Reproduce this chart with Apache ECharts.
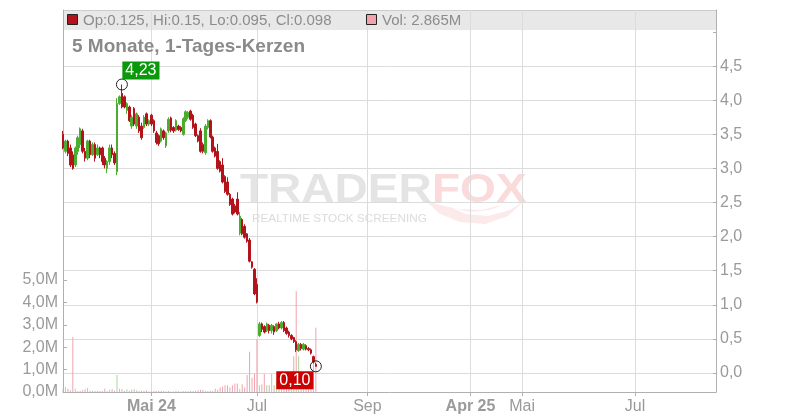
<!DOCTYPE html>
<html><head><meta charset="utf-8">
<script src="https://cdn.jsdelivr.net/npm/echarts@6/dist/echarts.min.js"></script>
<style>html,body{margin:0;padding:0;background:#fff}#c{width:800px;height:420px}</style>
</head><body><div id="c"></div>
<script>
// ---- data ----
const slotCount = 267; // trading-day slots on the x axis (data + empty future)
const tickIndex = [36, 79, 124, 166, 187, 233];
const tickLabels = ['Mai 24', 'Jul', 'Sep', 'Apr 25', 'Mai', 'Jul'];
const tickBold = [true, false, false, true, false, false];
const chartTitle = '5 Monate, 1-Tages-Kerzen';
// [open, close, low, high]
const candles = [
[3.50,3.30,3.28,3.55],[3.25,3.40,3.22,3.42],[3.40,3.22,3.18,3.42],[3.30,3.05,3.02,3.35],[3.20,3.00,2.98,3.25],
[3.05,3.30,3.02,3.32],[3.25,3.45,3.20,3.48],[3.35,3.58,3.30,3.60],[3.55,3.25,3.22,3.58],[3.25,3.15,3.10,3.30],
[3.15,3.40,3.12,3.42],[3.40,3.20,3.15,3.42],[3.20,3.35,3.18,3.38],[3.35,3.15,3.10,3.38],[3.20,3.30,3.18,3.35],
[3.30,3.20,3.15,3.32],[3.30,3.10,3.05,3.32],[3.15,3.05,3.00,3.18],[3.00,3.10,2.93,3.12],[3.10,3.30,3.05,3.35],
[3.30,3.20,3.15,3.35],[3.22,3.08,3.05,3.25],[2.95,3.95,2.90,4.03],[3.95,4.05,3.93,4.07],[4.10,3.90,3.88,4.23],
[4.05,3.90,3.88,4.07],[3.85,3.95,3.80,3.97],[3.90,3.70,3.68,3.92],[3.62,3.75,3.58,3.78],[3.88,3.65,3.62,3.90],
[3.62,3.80,3.58,3.82],[3.75,3.55,3.52,3.78],[3.62,3.45,3.42,3.67],[3.60,3.75,3.58,3.78],[3.80,3.65,3.62,3.82],
[3.65,3.70,3.62,3.72],[3.78,3.65,3.62,3.80],[3.70,3.55,3.52,3.72],[3.52,3.38,3.35,3.55],[3.48,3.36,3.33,3.50],
[3.40,3.58,3.38,3.60],[3.55,3.45,3.42,3.57],[3.33,3.52,3.30,3.54],[3.55,3.72,3.52,3.75],[3.74,3.56,3.53,3.76],
[3.60,3.55,3.52,3.62],[3.56,3.70,3.54,3.72],[3.62,3.57,3.55,3.64],[3.60,3.55,3.53,3.62],[3.50,3.73,3.48,3.75],
[3.70,3.83,3.68,3.85],[3.75,3.82,3.72,3.84],[3.84,3.72,3.70,3.86],[3.78,3.60,3.58,3.80],[3.65,3.48,3.46,3.67],
[3.48,3.40,3.38,3.50],[3.55,3.25,3.23,3.59],[3.35,3.25,3.22,3.38],[3.23,3.62,3.20,3.65],[3.60,3.70,3.57,3.72],
[3.70,3.46,3.44,3.72],[3.46,3.25,3.23,3.48],[3.30,3.18,3.16,3.32],[3.25,3.00,2.98,3.36],[3.10,2.96,2.94,3.12],
[3.05,2.80,2.78,3.15],[2.88,2.66,2.64,2.90],[2.80,2.62,2.60,2.87],[2.62,2.47,2.45,2.64],[2.55,2.33,2.31,2.57],
[2.45,2.36,2.34,2.48],[2.55,2.33,2.31,2.65],[2.05,2.30,2.02,2.36],[2.25,2.04,2.02,2.27],[2.15,1.99,1.97,2.18],
[2.04,1.93,1.91,2.05],[1.95,1.64,1.62,1.98],[1.63,1.55,1.53,1.64],[1.52,1.16,1.14,1.54],[1.30,1.04,1.02,1.39],
[0.55,0.72,0.53,0.75],[0.72,0.64,0.60,0.74],[0.68,0.60,0.58,0.70],[0.62,0.72,0.60,0.74],[0.70,0.62,0.58,0.72],
[0.62,0.70,0.58,0.72],[0.68,0.60,0.56,0.70],[0.62,0.72,0.60,0.73],[0.72,0.66,0.64,0.75],[0.66,0.74,0.64,0.76],
[0.74,0.62,0.60,0.76],[0.66,0.58,0.56,0.68],[0.60,0.55,0.52,0.62],[0.55,0.50,0.48,0.57],[0.52,0.46,0.44,0.53],
[0.46,0.34,0.31,0.48],[0.33,0.42,0.31,0.44],[0.42,0.36,0.33,0.44],[0.35,0.42,0.33,0.44],[0.40,0.35,0.33,0.42],
[0.36,0.34,0.32,0.38],[0.34,0.29,0.27,0.36],[0.24,0.16,0.14,0.25],[0.125,0.098,0.095,0.15]
];
// volume in millions
const volumeM = [
0.12,0.22,0.15,0.08,2.45,0.15,0.05,0.06,0.08,0.12,
0.18,0.06,0.06,0.05,0.06,0.05,0.05,0.15,0.05,0.10,
0.12,0.06,0.76,0.15,0.12,0.05,0.12,0.05,0.10,0.12,
0.08,0.05,0.06,0.06,0.08,0.03,0.03,0.06,0.05,0.06,
0.05,0.05,0.03,0.04,0.02,0.02,0.06,0.03,0.02,0.04,
0.05,0.05,0.06,0.05,0.06,0.08,0.10,0.10,0.06,0.05,
0.06,0.05,0.15,0.10,0.20,0.25,0.30,0.30,0.20,0.30,
0.38,0.38,0.15,0.35,0.20,0.76,1.80,0.64,0.83,2.35,
0.30,0.35,0.80,0.30,0.30,0.80,0.30,0.50,0.40,0.30,
0.50,0.40,0.60,0.60,1.60,4.50,1.60,0.60,0.80,0.50,
0.70,0.50,1.65,2.865
];
const priceMax = 5, priceInterval = 0.5;
const volMaxM = 5, volIntervalM = 1;
const highIdx = 24, lastIdx = candles.length - 1;

// ---- styles ----
const RED = '#b3141c', GREEN = '#4aad2f', VOL_RED = '#f0a3ad', VOL_GREEN = '#a5d99a';
const AXIS = '#b0b0b0', GRID = '#dcdcdc', LABEL = '#9a9a9a';
const FONT = '"Liberation Sans", Arial, sans-serif';
const L = 63, R = 84;

const slots = Array.from({length: slotCount}, (_, i) => String(i));
const comma = (v, d) => v.toFixed(d).replace('.', ',');
const isTick = (i) => tickIndex.indexOf(i) >= 0;

const volData = volumeM.map((v, i) => ({
  value: v * 1e6,
  itemStyle: {color: candles[i][1] >= candles[i][0] ? VOL_GREEN : VOL_RED}
}));

const last = candles[lastIdx];
const headerText = 'Op:' + last[0] + ', Hi:' + last[3] + ', Lo:' + last[2] + ', Cl:' + last[1];
const volText = 'Vol: ' + volumeM[lastIdx] + 'M';

const chart = echarts.init(document.getElementById('c'), null, {renderer: 'canvas'});
chart.setOption({
  animation: false,
  backgroundColor: '#fff',
  grid: [
    {left: L, right: R, top: 10, bottom: 28},
    {left: L, right: R, top: 32, bottom: 47},
    {left: L, right: R, top: 280, bottom: 28}
  ],
  xAxis: [
    {type: 'category', gridIndex: 0, data: slots, boundaryGap: false,
      axisLine: {lineStyle: {color: AXIS}},
      axisTick: {show: true, length: 4, interval: (i) => isTick(i), lineStyle: {color: AXIS}},
      splitLine: {show: true, interval: (i) => isTick(i), lineStyle: {color: GRID}},
      axisLabel: {interval: (i) => isTick(i), margin: 7, color: LABEL, fontSize: 16, fontFamily: FONT,
        formatter: (v) => { const k = tickIndex.indexOf(Number(v)); if (k < 0) return ''; return tickBold[k] ? '{b|' + tickLabels[k] + '}' : tickLabels[k]; },
        rich: {b: {fontWeight: 'bold', color: LABEL, fontSize: 16, fontFamily: FONT}}}},
    {type: 'category', gridIndex: 1, data: slots, boundaryGap: false, show: false},
    {type: 'category', gridIndex: 2, data: slots, boundaryGap: false, show: false}
  ],
  yAxis: [
    {type: 'value', gridIndex: 0, position: 'left', min: 0, max: 1,
      axisLine: {show: true, lineStyle: {color: AXIS}}, axisTick: {show: false}, axisLabel: {show: false}, splitLine: {show: false}},
    {type: 'value', gridIndex: 0, position: 'right', min: 0, max: 1,
      axisLine: {show: true, lineStyle: {color: AXIS}}, axisTick: {show: false}, axisLabel: {show: false}, splitLine: {show: false}},
    {type: 'value', gridIndex: 1, position: 'right', min: 0, max: priceMax, interval: priceInterval,
      axisLine: {show: false},
      axisTick: {show: true, inside: true, length: 3, lineStyle: {color: AXIS}},
      axisLabel: {margin: 4, color: LABEL, fontSize: 16, fontFamily: FONT,
        formatter: (v) => v >= priceMax ? '' : comma(v, 1)},
      splitLine: {show: true, lineStyle: {color: [GRID, GRID, GRID, GRID, GRID, GRID, GRID, GRID, GRID, GRID, 'rgba(0,0,0,0)']}}},
    {type: 'value', gridIndex: 2, position: 'left', min: 0, max: volMaxM * 1e6, interval: volIntervalM * 1e6,
      axisLine: {show: false},
      axisTick: {show: true, inside: true, length: 4, lineStyle: {color: AXIS}},
      axisLabel: {margin: 5, color: LABEL, fontSize: 16, fontFamily: FONT,
        formatter: (v) => comma(v / 1e6, 1) + 'M'},
      splitLine: {show: false}}
  ],
  graphic: {elements: [
    {type: 'rect', z: -10, silent: true, shape: {x: L, y: 10, width: 800 - L - R, height: 20}, style: {fill: '#e8e8e8'}},
    {type: 'line', z: -9, silent: true, shape: {x1: L, y1: 10.5, x2: 800 - R, y2: 10.5}, style: {stroke: '#cccccc', lineWidth: 1}},
    {type: 'rect', z: 10, silent: true, shape: {x: 67.5, y: 14.5, width: 10, height: 10}, style: {fill: RED, stroke: '#222', lineWidth: 1}},
    {type: 'text', z: 10, silent: true, x: 83, y: 20.5, style: {text: headerText, font: '15px ' + FONT, fill: '#8c8c8c', textVerticalAlign: 'middle', verticalAlign: 'middle'}},
    {type: 'rect', z: 10, silent: true, shape: {x: 366.5, y: 14.5, width: 10, height: 10}, style: {fill: VOL_RED, stroke: '#222', lineWidth: 1}},
    {type: 'text', z: 10, silent: true, x: 382, y: 20.5, style: {text: volText, font: '15px ' + FONT, fill: '#8c8c8c', textVerticalAlign: 'middle', verticalAlign: 'middle'}},
    {type: 'text', z: 10, silent: true, x: 72, y: 47, style: {text: chartTitle, font: 'bold 19px ' + FONT, fill: '#8a8a8a', textVerticalAlign: 'middle', verticalAlign: 'middle'}},
    // watermark
    {type: 'polygon', z: -6, silent: true, style: {fill: 'rgba(240,150,150,0.2)'},
      shape: {points: [[425,200],[440,214],[460,222],[485,224],[508,216],[525,200],[510,210],[488,216],[466,214],[452,208],[470,212],[490,210],[505,204],[482,210],[458,209],[440,205]]}},
    {type: 'text', z: -5, silent: true, x: 240, y: 191, scaleX: 1.15, style: {text: 'TRADER', font: 'bold 40px ' + FONT, fill: 'rgba(185,185,185,0.38)', textVerticalAlign: 'middle', verticalAlign: 'middle'}},
    {type: 'text', z: -5, silent: true, x: 432, y: 191, scaleX: 1.15, style: {text: 'FOX', font: 'bold 40px ' + FONT, fill: 'rgba(238,140,140,0.32)', textVerticalAlign: 'middle', verticalAlign: 'middle'}},
    {type: 'text', z: -5, silent: true, x: 252, y: 219, scaleX: 1.07, style: {text: 'REALTIME STOCK SCREENING', font: '11px ' + FONT, fill: 'rgba(190,190,190,0.55)', textVerticalAlign: 'middle', verticalAlign: 'middle'}}
  ]},
  series: [
    {type: 'candlestick', xAxisIndex: 1, yAxisIndex: 2, data: candles.map(c => [c[0], c[1], c[2], c[3]]),
      barWidth: 2, silent: true,
      itemStyle: {color: GREEN, color0: RED, borderColor: GREEN, borderColor0: RED, borderWidth: 1},
      markPoint: {silent: true, animation: false, data: [
        {coord: [String(highIdx), candles[highIdx][3]], symbol: 'circle', symbolSize: 11,
          itemStyle: {color: 'rgba(0,0,0,0)', borderColor: '#222', borderWidth: 1},
          label: {show: true, formatter: comma(candles[highIdx][3], 2), offset: [19, -14], color: '#fff', backgroundColor: '#0a990a',
            padding: [2, 3, 0, 3], fontSize: 16, fontFamily: FONT}},
        {coord: [String(lastIdx), candles[lastIdx][1]], symbol: 'circle', symbolSize: 11,
          itemStyle: {color: 'rgba(0,0,0,0)', borderColor: '#222', borderWidth: 1},
          label: {show: true, formatter: comma(candles[lastIdx][1], 2), offset: [-21, 14], color: '#fff', backgroundColor: '#cc0000',
            padding: [2, 3, 0, 3], fontSize: 16, fontFamily: FONT}}
      ]}},
    {type: 'bar', xAxisIndex: 2, yAxisIndex: 3, data: volData, barWidth: 1, silent: true, z: 1}
  ]
});
</script></body></html>
